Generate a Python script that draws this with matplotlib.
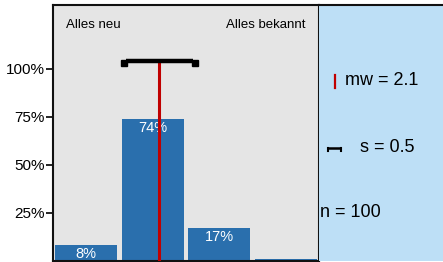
import matplotlib
matplotlib.use("Agg")
import matplotlib.pyplot as plt
from matplotlib.ticker import FuncFormatter
from matplotlib.transforms import ScaledTranslation

categories = [1, 2, 3, 4]
shares = [0.08, 0.74, 0.17, 0.006]
share_labels = ["8%", "74%", "17%", ""]
mean_value = 2.1
sd_value = 0.5
n_value = 100
yticks = [0.25, 0.5, 0.75, 1.0]
left_label = "Alles neu"
right_label = "Alles bekannt"

W, H = 443, 262
fig = plt.figure(figsize=(W / 100, H / 100), dpi=100)
fig.patch.set_facecolor("white")

bar_color = "#2a6fad"
grey_bg = "#e5e5e5"
blue_bg = "#bddff6"
red = "#c00000"
FONT = "Liberation Sans"

ax = fig.add_axes([53 / W, 1 - 260.5 / H, (319 - 53) / W, (260.5 - 5) / H])
ax.set_facecolor(grey_bg)
ax.set_xlim(0.5, 4.5)
ax.set_ylim(0, 1.334)
ax.bar(categories, shares, width=0.93, color=bar_color, zorder=2)
for x, v, lab in zip(categories, shares, share_labels):
    if lab:
        ax.text(x, v - 0.048, lab, ha="center", va="center", color="white",
                fontsize=10.5, family=FONT, zorder=3)

# mean line and standard deviation bar
err_y = 1.04
ax.vlines(mean_value, 0, err_y, color=red, lw=2.2, zorder=4)
ax.hlines(err_y, mean_value - sd_value, mean_value + sd_value, color="black",
          lw=3.2, zorder=5)
px = 1 / 100
for side, dx in ((-1, -2.5), (1, 2.5)):
    off = ax.transData + ScaledTranslation(dx * px, -2 * px, fig.dpi_scale_trans)
    ax.plot([mean_value + side * sd_value], [err_y], marker="s", markersize=4.2,
            color="black", transform=off, zorder=5)

ax.set_yticks(yticks)
ax.yaxis.set_major_formatter(FuncFormatter(lambda v, p: f"{int(round(v * 100))}%"))
ax.set_xticks([])
ax.tick_params(axis="y", direction="out", length=5, width=1.2, labelsize=11, pad=1)
for lbl in ax.get_yticklabels():
    lbl.set_family(FONT)
for s in ["left", "top", "right", "bottom"]:
    ax.spines[s].set_linewidth(1.5)
    ax.spines[s].set_color("#111111")

fig.text(66 / W, 1 - 25 / H, left_label, ha="left", va="center",
         fontsize=9.5, family=FONT)
fig.text(306 / W, 1 - 25 / H, right_label, ha="right", va="center",
         fontsize=9.5, family=FONT)

# legend panel
lax = fig.add_axes([319 / W, 1 - 260.5 / H, (W - 319) / W, (260.5 - 5) / H])
lax.set_facecolor(blue_bg)
lax.set_xlim(0, W - 319)
lax.set_ylim(260.5, 5)
lax.set_xticks([])
lax.set_yticks([])
for s in ["left", "right", "bottom"]:
    lax.spines[s].set_visible(False)
lax.spines["top"].set_linewidth(1.5)
lax.spines["top"].set_color("#111111")
lax.plot([16, 16], [75, 88], color=red, lw=1.6)
lax.text(26, 80, f"mw = {mean_value}", ha="left", va="center",
         fontsize=13, family=FONT)
lax.plot([8, 22], [148, 148], color="black", lw=1.8, solid_capstyle="butt")
lax.plot([8.5, 8.5], [148, 151], color="black", lw=1.5)
lax.plot([21.5, 21.5], [148, 151], color="black", lw=1.5)
lax.text(41, 147, f"s = {sd_value}", ha="left", va="center",
         fontsize=13, family=FONT)
lax.text(0.5, 212, f"n = {n_value}", ha="left", va="center",
         fontsize=13, family=FONT)

fig.savefig("out.png", dpi=100)
